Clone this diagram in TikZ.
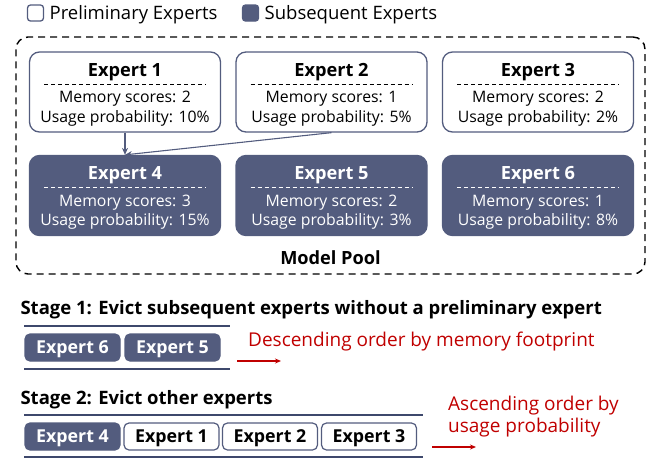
\documentclass[tikz,border=0pt]{standalone}
\usepackage{fontspec}
\setmainfont{Open Sans}
\usetikzlibrary{arrows.meta,positioning,calc}

\definecolor{slate}{RGB}{83,92,126}
\definecolor{navyline}{RGB}{62,72,108}
\definecolor{evictred}{RGB}{192,0,0}

\begin{document}
\begin{tikzpicture}[x=1pt, y=-1pt,
  prelim/.style={draw=slate, line width=1.3pt, rounded corners=10pt,
    fill=white, minimum width=191pt, minimum height=80pt},
  subseq/.style={prelim, fill=slate},
  title/.style={font=\fontsize{18.2}{21}\selectfont\bfseries},
  info/.style={font=\fontsize{15.8}{18}\selectfont},
  sep/.style={dashed, dash pattern=on 4pt off 3pt, line width=0.9pt},
  link/.style={-{Stealth[length=7pt, width=6pt]}, line width=1.1pt, slate},
  chip/.style={draw=slate, line width=1.2pt, rounded corners=5pt,
    minimum width=95pt, minimum height=27pt, inner sep=0pt,
    text height=12.7pt, text depth=0pt,
    font=\fontsize{17.8}{20}\selectfont\bfseries},
  chipsub/.style={chip, fill=slate, text=white},
  chippre/.style={chip, fill=white, text=black},
  stage/.style={font=\fontsize{18.5}{21}\selectfont\bfseries, anchor=west},
  order/.style={font=\fontsize{19}{22}\selectfont, text=evictred,
    anchor=west, align=left, inner sep=0pt},
  redarrow/.style={-{Stealth[length=6pt, width=5pt]}, line width=1.2pt, evictred},
  track/.style={line width=1.6pt, navyline}
]
\useasboundingbox (0,0) rectangle (657,459);

% legend
\node[draw=slate, line width=1.3pt, rounded corners=3pt, minimum size=16pt,
  inner sep=0pt] (lpre) at (35.5,13) {};
\node[font=\fontsize{18.5}{21}\selectfont, right=2pt of lpre, yshift=-2pt]
  (lpretxt) {Preliminary Experts};
\node[draw=slate, fill=slate, line width=1.3pt, rounded corners=3pt,
  minimum size=16pt, inner sep=0pt] (lsub) at (250.5,13) {};
\node[font=\fontsize{18.5}{21}\selectfont, right=2pt of lsub, yshift=-2pt]
  (lsubtxt) {Subsequent Experts};

% model pool
\node[draw, dashed, dash pattern=on 7pt off 5pt, line width=1.4pt,
  rounded corners=12pt, minimum width=629pt, minimum height=237pt]
  (pool) at (330.5,155.5) {};
\node[title] (pooltxt) at (330.5,258) {Model Pool};

\foreach \i/\cx/\cy/\m/\p/\kind/\tc in {
    1/125/92/2/10/prelim/black, 2/331.5/92/1/5/prelim/black,
    3/538/92/2/2/prelim/black, 4/125/195.5/3/15/subseq/white,
    5/331.5/195.5/2/3/subseq/white, 6/538/195.5/1/8/subseq/white} {
  \node[\kind] (e\i) at (\cx,\cy) {};
  \node[title, text=\tc] (t\i) at ($(e\i.center)+(0,-20)$) {Expert \i};
  \draw[sep, \tc] ($(e\i.center)+(-81,-8)$) -- ($(e\i.center)+(81,-8)$);
  \node[info, text=\tc] (m\i) at ($(e\i.center)+(0,7)$) {Memory scores: \m};
  \node[info, text=\tc] (p\i) at ($(e\i.center)+(0,26)$)
    {Usage probability: \p\%};
}

\draw[link] (e1.south) -- (e4.north);
\draw[link] (e2.south) -- (e4.north);

% stage 1
\node[stage] (s1) at (17,309.5)
  {Stage 1: Evict subsequent experts without a preliminary expert};
\draw[track] (24,326) -- (230,326);
\draw[track] (24,369) -- (230,369);
\node[chipsub] (q6) at (72.5,347.5) {Expert 6};
\node[chipsub] (q5) at (172.5,347.5) {Expert 5};
\node[order] (o1) at (248,341.5) {Descending order by memory footprint};
\coordinate (a1) at (237,361);
\coordinate (b1) at (281,361);
\draw[redarrow] (a1) -- (b1);

% stage 2
\node[stage] (s2) at (17,399.5) {Stage 2: Evict other experts};
\draw[track] (24,415) -- (423,415);
\draw[track] (24,457) -- (423,457);
\node[chipsub] (r4) at (72.5,436.5) {Expert 4};
\foreach \j/\x in {1/171.5, 2/270, 3/369}
  \node[chippre] (r\j) at (\x,436.5) {Expert \j};
\node[order] (o2) at (448,417) {Ascending order by\\usage probability};
\coordinate (a2) at (432,447);
\coordinate (b2) at (476,447);
\draw[redarrow] (a2) -- (b2);

\end{tikzpicture}
\end{document}
